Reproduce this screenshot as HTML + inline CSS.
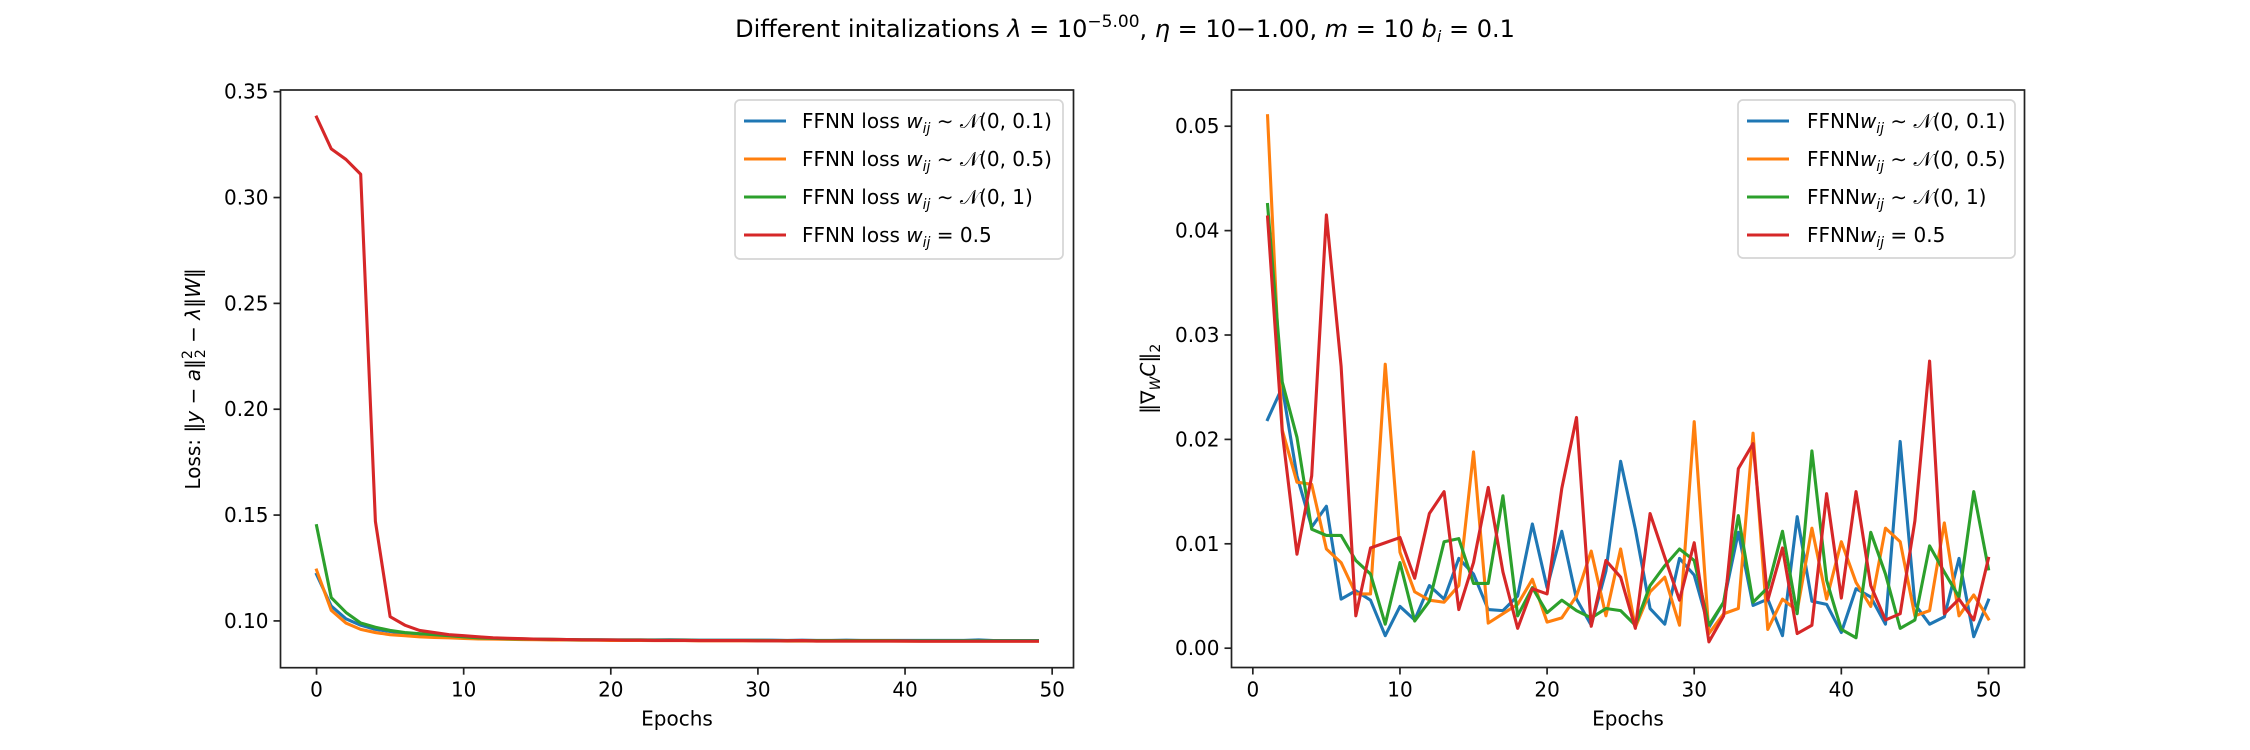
<!DOCTYPE html>
<html><head><meta charset="utf-8"><style>
body{margin:0;background:#fff;}
svg{display:block;font-family:"DejaVu Sans","Liberation Sans",sans-serif;}
</style></head><body>
<svg id="fig" width="2250" height="750" viewBox="0 0 2250 750" xmlns="http://www.w3.org/2000/svg">
<rect width="2250" height="750" fill="#fff"/>
<text x="1125" y="37" font-size="24" text-anchor="middle">Different initalizations <tspan font-style="italic">λ</tspan> = 10<tspan dy="-10" font-size="17">−5.00</tspan><tspan dy="10">, </tspan><tspan font-style="italic">η</tspan> = 10−1.00, <tspan font-style="italic">m</tspan> = 10 <tspan font-style="italic">b</tspan><tspan font-style="italic" font-size="16" dy="5">i</tspan><tspan dy="-5"> = 0.1</tspan></text>
<g id="left"></g>
<g id="right"></g>
</svg>
<script>
const lossEpochs = Array.from({length:50},(_,i)=>i);
const gradEpochs = Array.from({length:50},(_,i)=>i+1);
const lossBlue = [0.122,0.107,0.101,0.098,0.096,0.095,0.094,0.0935,0.093,0.0925,0.092,0.0918,0.0916,0.0915,0.0914,0.0913,0.0912,0.0912,0.0911,0.0911,0.091,0.091,0.091,0.091,0.0911,0.091,0.0909,0.0909,0.0909,0.0909,0.0909,0.0909,0.0908,0.0909,0.0908,0.0908,0.0909,0.0908,0.0908,0.0908,0.0908,0.0908,0.0908,0.0908,0.0908,0.091,0.0907,0.0907,0.0907,0.0907];
const lossOrange = [0.124,0.105,0.099,0.096,0.0945,0.0935,0.093,0.0925,0.0922,0.092,0.0917,0.0915,0.0914,0.0913,0.0912,0.0911,0.091,0.091,0.0909,0.0909,0.0908,0.0908,0.0908,0.0907,0.0907,0.0907,0.0906,0.0906,0.0906,0.0906,0.0906,0.0906,0.0905,0.0905,0.0905,0.0905,0.0905,0.0905,0.0905,0.0905,0.0904,0.0904,0.0904,0.0904,0.0904,0.0904,0.0904,0.0904,0.0904,0.0904];
const lossGreen = [0.145,0.111,0.104,0.099,0.097,0.0955,0.0945,0.094,0.0935,0.093,0.0925,0.092,0.0918,0.0916,0.0915,0.0914,0.0913,0.0912,0.0911,0.0911,0.091,0.091,0.091,0.0909,0.0909,0.0909,0.0908,0.0908,0.0908,0.0908,0.0908,0.0907,0.0907,0.0907,0.0907,0.0907,0.0907,0.0907,0.0907,0.0907,0.0906,0.0906,0.0906,0.0906,0.0906,0.0906,0.0906,0.0906,0.0906,0.0906];
const lossRed = [0.338,0.323,0.318,0.311,0.147,0.102,0.098,0.0955,0.0945,0.0935,0.093,0.0925,0.092,0.0918,0.0916,0.0914,0.0913,0.0912,0.0911,0.091,0.091,0.0909,0.0909,0.0908,0.0908,0.0908,0.0907,0.0907,0.0907,0.0907,0.0906,0.0906,0.0906,0.0907,0.0905,0.0905,0.0905,0.0905,0.0905,0.0905,0.0905,0.0904,0.0904,0.0904,0.0904,0.0904,0.0904,0.0904,0.0904,0.0904];
const gradBlue = [0.0219,0.025,0.0165,0.0116,0.0136,0.0047,0.0055,0.0046,0.0012,0.004,0.0027,0.006,0.0047,0.0086,0.0071,0.0037,0.0036,0.005,0.0119,0.0058,0.0112,0.0047,0.0022,0.0074,0.0179,0.0114,0.0038,0.0023,0.0086,0.007,0.002,0.0044,0.0111,0.0041,0.0047,0.0012,0.0126,0.0045,0.0042,0.0015,0.0057,0.0049,0.0023,0.0198,0.0042,0.0023,0.003,0.0086,0.0011,0.0046];
const gradOrange = [0.051,0.0209,0.0159,0.0157,0.0095,0.0082,0.0052,0.0052,0.0272,0.0092,0.0054,0.0046,0.0044,0.006,0.0188,0.0024,0.0033,0.0042,0.0066,0.0025,0.0029,0.005,0.0093,0.0031,0.0095,0.002,0.0054,0.0068,0.0022,0.0217,0.0014,0.0033,0.0038,0.0206,0.0018,0.0047,0.0036,0.0115,0.0047,0.0102,0.0063,0.004,0.0115,0.0102,0.0031,0.0036,0.012,0.0031,0.0051,0.0028];
const gradGreen = [0.0425,0.0255,0.0202,0.0114,0.0108,0.0108,0.0084,0.0071,0.0023,0.0082,0.0026,0.0045,0.0102,0.0105,0.0062,0.0062,0.0146,0.0031,0.0058,0.0034,0.0046,0.0036,0.0029,0.0038,0.0036,0.0022,0.006,0.0079,0.0095,0.0084,0.0022,0.0044,0.0127,0.0044,0.0058,0.0112,0.0033,0.0189,0.0065,0.0018,0.001,0.0111,0.0071,0.0019,0.0027,0.0098,0.0073,0.0049,0.015,0.0076];
const gradRed = [0.0413,0.0207,0.009,0.0165,0.0415,0.027,0.0031,0.0096,0.0101,0.0106,0.0067,0.0129,0.015,0.0037,0.0082,0.0154,0.0073,0.0019,0.0057,0.0052,0.0153,0.0221,0.0021,0.0084,0.0068,0.0019,0.0129,0.0087,0.0046,0.0101,0.0006,0.0031,0.0172,0.0196,0.0046,0.0096,0.0014,0.0022,0.0148,0.0048,0.015,0.006,0.0027,0.0033,0.0122,0.0275,0.0033,0.0047,0.0027,0.0086];
const lossYTicks = [0.10,0.15,0.20,0.25,0.30,0.35];
const gradYTicks = [0.00,0.01,0.02,0.03,0.04,0.05];
const xTicks = [0,10,20,30,40,50];
const colors = ['#1f77b4','#ff7f0e','#2ca02c','#d62728'];
const lossLegend = ['FFNN loss <tspan font-style="italic">w<tspan font-size="14" dy="5">ij</tspan></tspan><tspan dy="-5"> ∼ 𝒩(0, 0.1)</tspan>','FFNN loss <tspan font-style="italic">w<tspan font-size="14" dy="5">ij</tspan></tspan><tspan dy="-5"> ∼ 𝒩(0, 0.5)</tspan>','FFNN loss <tspan font-style="italic">w<tspan font-size="14" dy="5">ij</tspan></tspan><tspan dy="-5"> ∼ 𝒩(0, 1)</tspan>','FFNN loss <tspan font-style="italic">w<tspan font-size="14" dy="5">ij</tspan></tspan><tspan dy="-5"> = 0.5</tspan>'];
const gradLegend = ['FFNN<tspan font-style="italic">w<tspan font-size="14" dy="5">ij</tspan></tspan><tspan dy="-5"> ∼ 𝒩(0, 0.1)</tspan>','FFNN<tspan font-style="italic">w<tspan font-size="14" dy="5">ij</tspan></tspan><tspan dy="-5"> ∼ 𝒩(0, 0.5)</tspan>','FFNN<tspan font-style="italic">w<tspan font-size="14" dy="5">ij</tspan></tspan><tspan dy="-5"> ∼ 𝒩(0, 1)</tspan>','FFNN<tspan font-style="italic">w<tspan font-size="14" dy="5">ij</tspan></tspan><tspan dy="-5"> = 0.5</tspan>'];
const NS='http://www.w3.org/2000/svg';
function mk(parent,tag,attrs){const e=document.createElementNS(NS,tag);for(const k in attrs)e.setAttribute(k,attrs[k]);parent.appendChild(e);return e;}
function drawChart(g,cfg){
  const {L,R,T,B,xmin,xmax,ymin,ymax}=cfg;
  const sx=v=>L+(v-xmin)/(xmax-xmin)*(R-L);
  const sy=v=>B-(v-ymin)/(ymax-ymin)*(B-T);
  cfg.series.forEach((s,i)=>{
    const d=s.map((v,j)=>(j?'L':'M')+sx(cfg.xs[j]).toFixed(2)+' '+sy(v).toFixed(2)).join(' ');
    const p=mk(g,'path',{d:d,fill:'none',stroke:colors[i],'stroke-width':3.1,'stroke-linejoin':'round','stroke-linecap':'square'});
    
    
  });
  const fr=mk(g,'rect',{x:L,y:T,width:R-L,height:B-T,fill:'none',stroke:'#222','stroke-width':1.7});
  
  
  cfg.yTicks.forEach(v=>{
    const y=sy(v);
    mk(g,'line',{x1:L-7,x2:L,y1:y,y2:y,stroke:'#222','stroke-width':1.7});
    const t=mk(g,'text',{x:L-12,y:y+7,'font-size':20,'text-anchor':'end'});
    t.textContent=v.toFixed(2);
    
    
  });
  xTicks.forEach(v=>{
    const x=sx(v);
    mk(g,'line',{x1:x,x2:x,y1:B,y2:B+7,stroke:'#222','stroke-width':1.7});
    const t=mk(g,'text',{x:x,y:B+29,'font-size':20,'text-anchor':'middle'});
    t.textContent=v;
    
    
  });
  const xl=mk(g,'text',{x:(L+R)/2,y:B+58,'font-size':20,'text-anchor':'middle'});
  xl.textContent='Epochs';
  
  
  const yl=mk(g,'text',{x:0,y:0,'font-size':20,'text-anchor':'middle',transform:'translate('+cfg.ylx+','+((T+B)/2)+') rotate(-90)'});
  yl.innerHTML=cfg.ylabel;
  
  
  const lg=cfg.leg;
  const box=mk(g,'rect',{x:lg.x,y:lg.y,width:lg.w,height:lg.h,rx:5,fill:'#fff','fill-opacity':0.8,stroke:'#d5d5d5','stroke-width':1.7});
  
  
  cfg.legend.forEach((txt,i)=>{
    const y=lg.y+21+i*38;
    mk(g,'line',{x1:lg.x+9,x2:lg.x+51,y1:y,y2:y,stroke:colors[i],'stroke-width':3.1});
    const t=mk(g,'text',{x:lg.x+lg.tx,y:y+7,'font-size':20});
    t.innerHTML=txt;
    
    
  });
}
drawChart(document.getElementById('left'),{L:280.5,R:1073.5,T:90,B:667.7,xmin:-2.45,xmax:51.45,ymin:0.0779,ymax:0.3508,
  xs:lossEpochs,series:[lossBlue,lossOrange,lossGreen,lossRed],yTicks:lossYTicks,ylx:200,
  ylabel:'Loss: ‖<tspan font-style="italic">y</tspan> − <tspan font-style="italic">a</tspan>‖<tspan font-size="14" dy="-8">2</tspan><tspan font-size="14" dx="-8" dy="13">2</tspan><tspan dy="-5"> − </tspan><tspan font-style="italic">λ</tspan>‖<tspan font-style="italic">W</tspan>‖',
  leg:{x:735,y:100,w:328,h:159,tx:67},legend:lossLegend});
drawChart(document.getElementById('right'),{L:1231.5,R:2024.5,T:90,B:667.5,xmin:-1.45,xmax:52.45,ymin:-0.00185,ymax:0.05347,
  xs:gradEpochs,series:[gradBlue,gradOrange,gradGreen,gradRed],yTicks:gradYTicks,ylx:1155,
  ylabel:'‖∇<tspan font-style="italic" font-size="14" dy="5">W</tspan><tspan font-style="italic" dy="-5">C</tspan>‖<tspan font-size="14" dy="5">2</tspan>',
  leg:{x:1738,y:100,w:277,h:158,tx:69},legend:gradLegend});
</script>
</body></html>
